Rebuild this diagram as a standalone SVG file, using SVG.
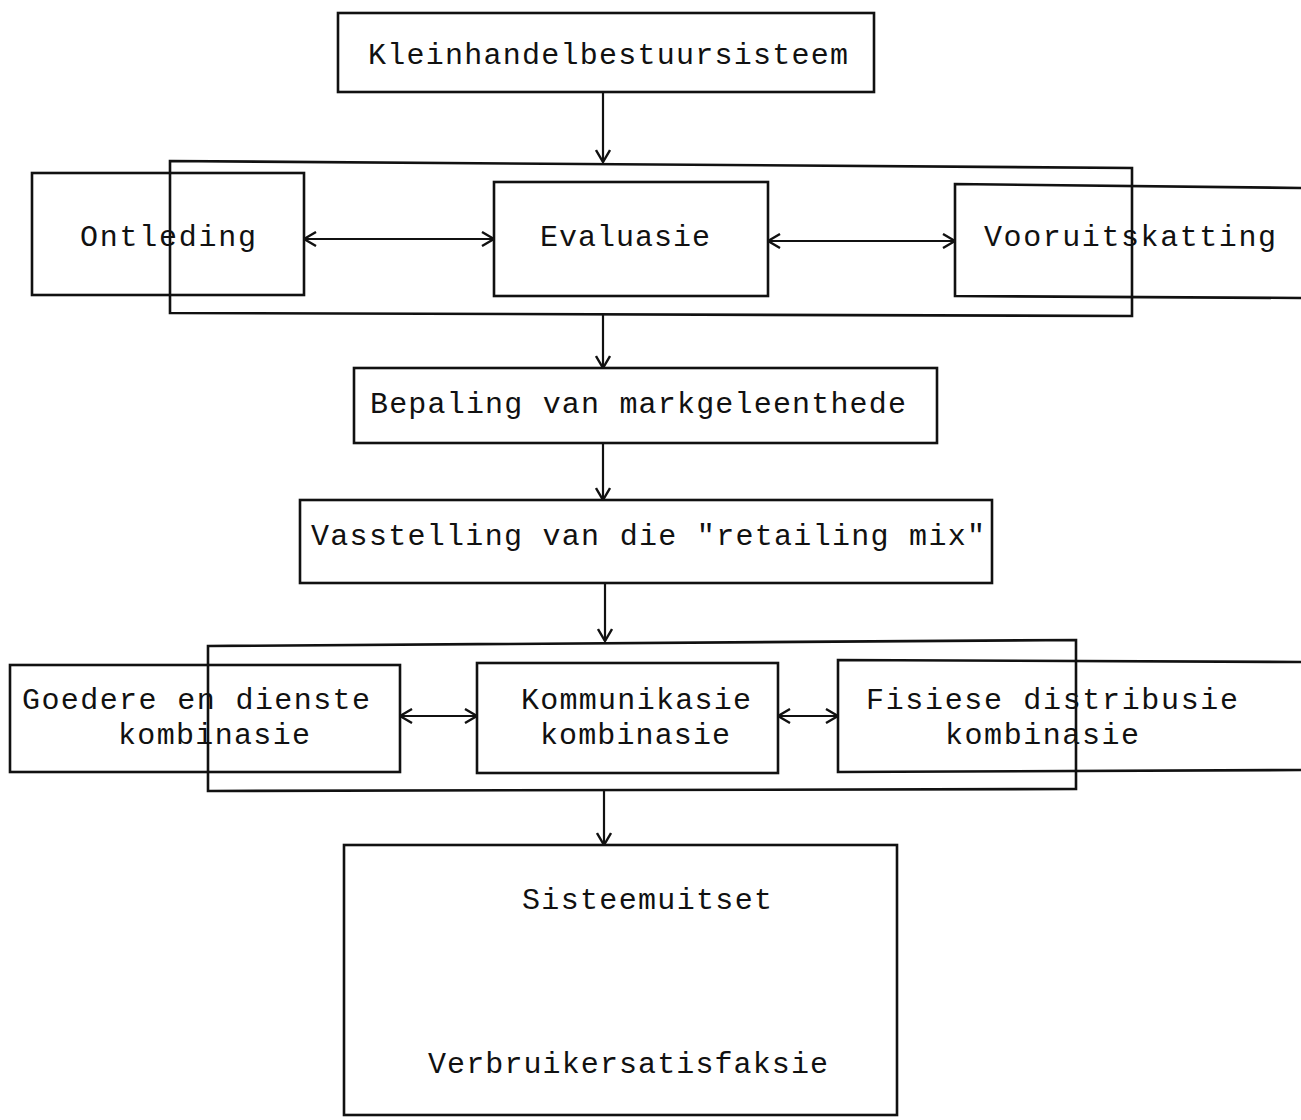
<svg xmlns="http://www.w3.org/2000/svg" width="1301" height="1120" viewBox="0 0 1301 1120">
<style>
.b{fill:none;stroke:#111;stroke-width:2.6}
.c{fill:none;stroke:#111;stroke-width:2.2}
text{font-family:"Liberation Mono","DejaVu Sans Mono",monospace;font-size:30px;fill:#111}
</style>
<defs>
<marker id="ah" viewBox="0 0 16 16" refX="15" refY="8" markerWidth="16" markerHeight="16" markerUnits="userSpaceOnUse" orient="auto-start-reverse">
<path d="M3,1 L15,8 L3,15" fill="none" stroke="#111" stroke-width="2.4"/>
</marker>
</defs>
<rect width="1301" height="1120" fill="#fff"/>
<g id="node-kleinhandel">
<rect class="b" x="338" y="13" width="536" height="79"/>
<text x="368" y="64" textLength="480" lengthAdjust="spacing">Kleinhandelbestuursisteem</text>
</g>
<g id="group-analysis">
<path class="b" d="M170,161 L1132,168 L1132,316 L170,313 Z"/>
</g>
<g id="node-ontleding">
<rect class="b" x="32" y="173" width="272" height="122"/>
<text x="80" y="246" textLength="176" lengthAdjust="spacing">Ontleding</text>
</g>
<g id="node-evaluasie">
<rect class="b" x="494" y="182" width="274" height="114"/>
<text x="540" y="246" textLength="170" lengthAdjust="spacing">Evaluasie</text>
</g>
<g id="node-vooruitskatting">
<path class="b" d="M1301,188 L955,184 L955,296 L1301,298"/>
<text x="984" y="246" textLength="292" lengthAdjust="spacing">Vooruitskatting</text>
</g>
<g id="node-bepaling">
<rect class="b" x="354" y="368" width="583" height="75"/>
<text x="370" y="413" textLength="536" lengthAdjust="spacing">Bepaling van markgeleenthede</text>
</g>
<g id="node-vasstelling">
<rect class="b" x="300" y="500" width="692" height="83"/>
<text x="311" y="545" textLength="674" lengthAdjust="spacing">Vasstelling van die "retailing mix"</text>
</g>
<g id="group-mix">
<path class="b" d="M208,646 L1076,640 L1076,789 L208,791 Z"/>
</g>
<g id="node-goedere">
<rect class="b" x="10" y="665" width="390" height="107"/>
<text x="22" y="709" textLength="348" lengthAdjust="spacing">Goedere en dienste</text>
<text x="118" y="744" textLength="192" lengthAdjust="spacing">kombinasie</text>
</g>
<g id="node-kommunikasie">
<rect class="b" x="477" y="663" width="301" height="110"/>
<text x="521" y="709" textLength="230" lengthAdjust="spacing">Kommunikasie</text>
<text x="540" y="744" textLength="190" lengthAdjust="spacing">kombinasie</text>
</g>
<g id="node-fisiese">
<path class="b" d="M1301,662 L838,660 L838,772 L1301,770"/>
<text x="866" y="709" textLength="372" lengthAdjust="spacing">Fisiese distribusie</text>
<text x="945" y="744" textLength="194" lengthAdjust="spacing">kombinasie</text>
</g>
<g id="node-uitset">
<rect class="b" x="344" y="845" width="553" height="270"/>
<text x="522" y="909" textLength="250" lengthAdjust="spacing">Sisteemuitset</text>
<text x="428" y="1073" textLength="400" lengthAdjust="spacing">Verbruikersatisfaksie</text>
</g>
<g id="connectors">
<line class="c" x1="603" y1="92" x2="603" y2="162" marker-end="url(#ah)"/>
<line class="c" x1="304" y1="239" x2="494" y2="239" marker-start="url(#ah)" marker-end="url(#ah)"/>
<line class="c" x1="768" y1="241" x2="955" y2="241" marker-start="url(#ah)" marker-end="url(#ah)"/>
<line class="c" x1="603" y1="315" x2="603" y2="368" marker-end="url(#ah)"/>
<line class="c" x1="603" y1="443" x2="603" y2="500" marker-end="url(#ah)"/>
<line class="c" x1="605" y1="583" x2="605" y2="641" marker-end="url(#ah)"/>
<line class="c" x1="400" y1="716" x2="477" y2="716" marker-start="url(#ah)" marker-end="url(#ah)"/>
<line class="c" x1="778" y1="716" x2="838" y2="716" marker-start="url(#ah)" marker-end="url(#ah)"/>
<line class="c" x1="604" y1="790" x2="604" y2="845" marker-end="url(#ah)"/>
</g>
</svg>
